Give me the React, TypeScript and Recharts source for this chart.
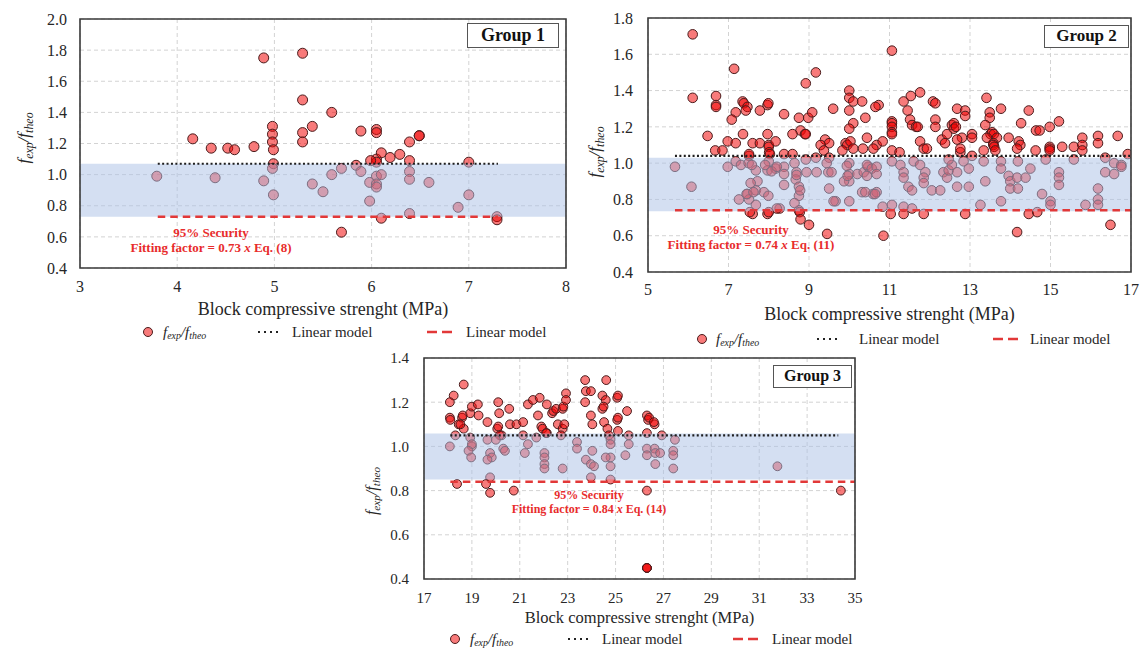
import React from 'react';
import {
  ScatterChart,
  Scatter,
  XAxis,
  YAxis,
  CartesianGrid,
  ReferenceArea,
  ReferenceLine,
  Legend,
  Label,
} from 'recharts';

const SERIF = '"Liberation Serif", "Times New Roman", Times, serif';

// [block compressive strength (MPa), f_exp / f_theo]
const group1Points = [
  [3.79, 0.99], [4.16, 1.23], [4.35, 1.17], [4.39, 0.98], [4.52, 1.17], [4.59, 1.16],
  [4.79, 1.18], [4.89, 1.75], [4.89, 0.96], [4.98, 1.31], [4.98, 1.26], [4.98, 1.21],
  [4.99, 1.16], [4.99, 1.07], [4.98, 1.04], [4.99, 0.87], [5.29, 1.78], [5.29, 1.48],
  [5.29, 1.27], [5.29, 1.21], [5.39, 1.31], [5.39, 0.94], [5.5, 0.89], [5.59, 1.4],
  [5.59, 1.0], [5.69, 1.04], [5.69, 0.63], [5.84, 1.06], [5.89, 1.28], [5.89, 1.02],
  [5.98, 0.95], [5.98, 0.83], [6.05, 1.29], [6.05, 1.27], [6.05, 1.1], [6.05, 1.08],
  [6.05, 0.99], [6.05, 0.94], [6.05, 0.92], [6.1, 1.14], [6.1, 1.0], [6.1, 0.72],
  [5.99, 1.09], [6.19, 1.11], [6.29, 1.13], [6.39, 1.21], [6.39, 1.09], [6.39, 1.02],
  [6.39, 0.97], [6.39, 0.75], [6.49, 1.25], [6.49, 1.25], [6.59, 0.95], [6.89, 0.79],
  [7.0, 1.08], [7.0, 0.87], [7.29, 0.73], [7.29, 0.71],
];

const group2Points = [
  [6.11, 1.71], [7.14, 1.52], [6.11, 1.36], [6.69, 1.37], [6.69, 1.32], [6.69, 1.31],
  [7.35, 1.34], [7.38, 1.33], [7.47, 1.31], [7.43, 1.29], [7.97, 1.32], [7.99, 1.33],
  [7.78, 1.29], [7.18, 1.28], [7.08, 1.24], [6.48, 1.15], [6.98, 1.12], [7.18, 1.11],
  [6.67, 1.07], [6.85, 1.07], [7.36, 1.16], [7.6, 1.11], [7.78, 1.11], [7.97, 1.16],
  [8.0, 1.1], [8.0, 1.09], [8.01, 1.06], [8.03, 1.05], [8.17, 1.12], [7.51, 1.04],
  [7.51, 1.05], [8.38, 1.27], [8.75, 1.25], [8.92, 1.44], [9.17, 1.5], [8.79, 1.18],
  [8.9, 1.16], [8.92, 1.16], [8.59, 1.16], [8.98, 1.25], [9.08, 1.28], [8.38, 1.05],
  [8.59, 1.05], [9.4, 1.13], [9.5, 1.11], [9.29, 1.1], [9.37, 1.07], [9.6, 1.3],
  [10.0, 1.4], [10.0, 1.36], [10.1, 1.34], [10.32, 1.34], [10.0, 1.29], [10.1, 1.22],
  [10.0, 1.19], [9.91, 1.11], [9.95, 1.1], [10.03, 1.12], [10.1, 1.08], [9.83, 1.07],
  [10.34, 1.08], [10.4, 1.25],
  [5.67, 0.98], [6.08, 0.87], [6.98, 0.98], [7.18, 1.01], [7.31, 0.99], [7.5, 1.0],
  [7.68, 0.96], [7.72, 0.9], [7.68, 0.85], [7.47, 0.83], [7.26, 0.8], [7.51, 0.8],
  [7.68, 0.77], [7.6, 0.72], [7.97, 0.72], [7.88, 0.84], [7.99, 0.82], [7.97, 0.96],
  [8.0, 1.01], [8.17, 0.97], [8.38, 0.98], [8.38, 0.94], [8.38, 0.88], [8.27, 0.75],
  [8.64, 1.0], [8.69, 0.95], [8.67, 0.91], [8.75, 0.87], [8.75, 0.82], [8.75, 0.74],
  [8.77, 0.73], [8.79, 0.69], [9.0, 0.66], [8.64, 0.78], [8.92, 1.02], [9.17, 1.03],
  [9.19, 0.95], [9.5, 1.03], [9.48, 0.95], [9.5, 0.86], [9.66, 0.79], [9.45, 0.61],
  [10.0, 1.0], [10.0, 0.94], [10.0, 0.9], [10.0, 0.79], [10.2, 0.94], [10.32, 0.84],
  [10.36, 0.95], [9.87, 0.9], [7.58, 0.99], [7.91, 0.99], [8.07, 0.955], [8.2, 0.98],
  [8.2, 0.75], [8.0, 0.73], [7.53, 0.73], [7.45, 0.83], [7.62, 0.84], [7.55, 0.89],
  [8.69, 0.935], [8.78, 0.85], [8.94, 0.95], [9.44, 1.0], [9.56, 0.95], [9.61, 0.79],
  [9.94, 0.985], [9.96, 0.93], [10.59, 0.83], [10.47, 0.98],
  [11.06, 1.62], [10.73, 1.32], [10.65, 1.31], [11.35, 1.34], [11.53, 1.37], [11.76, 1.39],
  [11.45, 1.29], [12.08, 1.34], [12.14, 1.33], [11.06, 1.23], [11.06, 1.22], [11.06, 1.2],
  [11.06, 1.17], [11.06, 1.16], [11.51, 1.24], [11.56, 1.21], [11.66, 1.2], [11.7, 1.2],
  [12.14, 1.24], [12.14, 1.2], [10.44, 1.14], [10.68, 1.1], [10.83, 1.12], [10.6, 1.08],
  [11.06, 1.07], [11.25, 1.06], [11.76, 1.12], [11.85, 1.08], [11.93, 1.08], [12.3, 1.13],
  [12.43, 1.16], [12.38, 1.11], [12.55, 1.21], [12.6, 1.22], [12.68, 1.3], [12.88, 1.29],
  [12.88, 1.26], [12.8, 1.14], [13.05, 1.16], [13.05, 1.14], [12.68, 1.13], [12.76, 1.06],
  [12.76, 1.08], [13.05, 1.04], [12.6, 1.19], [12.65, 1.2], [13.41, 1.36], [13.49, 1.28],
  [13.49, 1.25], [13.38, 1.21], [13.77, 1.3], [13.51, 1.16], [13.55, 1.17], [13.59, 1.16],
  [13.67, 1.14], [13.58, 1.11], [13.58, 1.1], [13.6, 1.09], [13.42, 1.14], [13.34, 1.07],
  [13.63, 1.07], [13.96, 1.14], [14.21, 1.12], [14.27, 1.22], [14.46, 1.29], [14.25, 1.1],
  [14.17, 1.08], [14.64, 1.18], [14.73, 1.18], [14.98, 1.2], [15.21, 1.23], [14.98, 1.09],
  [14.98, 1.08], [14.98, 1.07], [14.63, 1.07], [15.29, 1.09], [15.58, 1.09], [15.79, 1.14],
  [15.79, 1.1], [15.79, 1.07],
  [10.44, 0.99], [10.56, 0.97], [10.68, 0.98], [10.68, 0.94], [10.44, 0.93], [10.4, 0.84],
  [10.68, 0.84], [10.64, 0.83], [10.83, 0.76], [11.06, 0.77], [11.03, 0.72], [10.85, 0.6],
  [11.06, 1.01], [11.27, 0.99], [11.35, 0.95], [11.35, 0.92], [11.47, 0.87], [11.56, 0.85],
  [11.35, 0.76], [11.35, 0.72], [11.56, 0.75], [11.85, 0.72], [11.6, 1.01], [11.76, 0.99],
  [11.89, 0.95], [11.85, 0.92], [11.85, 0.89], [12.05, 0.85], [12.26, 0.85], [12.34, 0.95],
  [12.43, 0.92], [12.47, 0.96], [12.55, 0.99], [12.68, 0.95], [12.68, 0.87], [12.84, 1.01],
  [12.97, 0.97], [12.97, 0.87], [12.88, 0.72], [12.47, 1.02], [13.26, 0.77], [13.38, 0.9],
  [13.34, 1.01], [13.77, 1.01], [13.77, 0.97], [13.77, 0.79], [13.96, 0.93], [14.0, 0.9],
  [14.0, 0.86], [14.17, 0.92], [14.19, 0.86], [14.19, 1.01], [14.38, 0.92], [14.5, 0.97],
  [14.46, 0.72], [14.67, 0.73], [14.17, 0.62], [14.79, 0.83], [15.0, 0.79], [15.0, 0.77],
  [14.88, 1.02], [15.21, 0.95], [15.21, 0.92], [15.21, 0.88], [15.58, 1.02], [15.87, 0.77],
  [16.18, 1.15], [16.18, 1.11], [16.18, 0.86], [16.18, 0.8], [16.18, 0.77], [16.36, 1.03],
  [16.36, 0.95], [16.49, 0.66], [16.58, 0.94], [16.58, 1.0], [16.67, 1.15], [16.76, 0.99],
  [16.76, 0.98], [16.92, 1.05],
];

const group3Points = [
  [18.66, 1.28], [18.24, 1.23], [18.08, 1.2], [18.08, 1.13], [18.1, 1.12], [18.45, 1.1],
  [18.59, 1.13], [18.62, 1.14], [18.66, 1.08], [18.93, 1.15], [19.0, 1.18], [19.25, 1.19],
  [19.28, 1.14], [19.65, 1.11], [20.1, 1.2], [20.14, 1.15], [20.06, 1.08], [20.1, 1.09],
  [20.56, 1.17], [20.59, 1.1], [20.86, 1.1], [21.14, 1.11], [21.34, 1.19], [21.55, 1.21],
  [21.83, 1.22], [21.76, 1.14], [21.9, 1.09], [21.95, 1.08], [22.13, 1.19], [22.35, 1.15],
  [22.4, 1.16], [22.52, 1.17], [22.79, 1.17], [22.82, 1.18], [22.93, 1.24], [22.93, 1.21],
  [22.13, 1.06], [22.59, 1.1], [22.79, 1.08], [22.86, 1.1], [23.73, 1.3], [23.76, 1.25],
  [23.97, 1.25], [23.73, 1.2], [23.97, 1.14], [24.03, 1.1], [24.45, 1.23], [24.59, 1.21],
  [24.45, 1.17], [24.5, 1.18], [24.61, 1.3], [25.07, 1.22], [25.1, 1.23], [24.52, 1.11],
  [24.66, 1.08], [25.07, 1.12], [25.1, 1.13], [25.48, 1.16], [26.31, 1.14], [26.36, 1.12],
  [26.4, 1.13], [26.63, 1.1], [26.6, 1.11], [24.72, 1.05], [25.1, 1.07], [21.14, 1.05],
  [20.24, 1.05], [19.65, 1.03], [18.52, 1.1], [18.31, 1.05], [22.1, 1.06], [22.72, 1.05],
  [21.69, 1.04], [20.17, 1.05], [26.31, 1.06],
  [18.08, 1.0], [18.93, 1.04], [19.0, 1.0], [19.0, 1.01], [18.86, 0.98], [18.97, 0.95],
  [19.76, 0.97], [19.83, 0.95], [19.65, 0.94], [20.31, 0.99], [20.38, 0.98], [20.0, 1.03],
  [21.34, 1.01], [21.21, 0.97], [22.03, 0.97], [22.03, 0.95], [22.03, 0.92], [22.03, 0.9],
  [22.79, 0.9], [23.39, 1.02], [23.39, 0.99], [23.76, 0.94], [23.97, 0.92], [24.03, 0.98],
  [24.79, 1.03], [24.79, 1.01], [24.79, 0.95], [24.79, 0.91], [24.79, 0.85], [23.97, 0.86],
  [25.55, 1.05], [25.55, 1.01], [25.41, 0.96], [26.31, 0.99], [26.31, 0.96], [26.63, 0.99],
  [26.66, 0.97], [26.66, 0.92], [26.86, 0.97], [26.93, 1.05], [27.48, 1.03], [27.41, 0.98],
  [27.41, 0.96], [27.41, 0.9], [19.76, 0.86], [24.1, 0.91], [24.59, 0.95], [31.76, 0.91],
  [18.38, 0.83], [19.59, 0.83], [19.76, 0.79], [20.75, 0.8], [26.31, 0.8],
  [26.31, 0.45], [26.31, 0.45], [26.31, 0.45], [34.41, 0.8],
];

const group1XTicks = [3, 4, 5, 6, 7, 8];
const group1YTicks = [0.4, 0.6, 0.8, 1.0, 1.2, 1.4, 1.6, 1.8, 2.0];
const group2XTicks = [5, 7, 9, 11, 13, 15, 17];
const group2YTicks = [0.4, 0.6, 0.8, 1.0, 1.2, 1.4, 1.6, 1.8];
const group3XTicks = [17, 19, 21, 23, 25, 27, 29, 31, 33, 35];
const group3YTicks = [0.4, 0.6, 0.8, 1.0, 1.2, 1.4];

// shaded band [low, high]
const group1Band = [0.73, 1.07];
const group2Band = [0.735, 1.03];
const group3Band = [0.85, 1.058];

// linear model (mean) and 95% security lines
const group1Mean = [{ x: 3.8, y: 1.07 }, { x: 7.3, y: 1.07 }];
const group1Security = [{ x: 3.8, y: 0.73 }, { x: 7.3, y: 0.73 }];
const group2Mean = [{ x: 5.67, y: 1.04 }, { x: 17, y: 1.04 }];
const group2Security = [{ x: 5.67, y: 0.74 }, { x: 17, y: 0.74 }];
const group3Mean = [{ x: 18.1, y: 1.05 }, { x: 34.3, y: 1.05 }];
const group3Security = [{ x: 18.1, y: 0.84 }, { x: 35, y: 0.84 }];

const groupNames = ['Group 1', 'Group 2', 'Group 3'];
const fittingTexts = ['0.73', '0.74', '0.84'];
const equationRefs = ['(8)', '(11)', '(14)'];

const toXY = (pts: number[][]) => pts.map(([x, y]) => ({ x, y }));

const RED_FILL = '#f20000';
const DOT_STROKE = '#4a1c1c';
const LINE_RED = '#e23838';

interface LegendPos {
  circle: number;
  text: number;
  dot: number;
  dotLabel: number;
  dash: number;
  dashLabel: number;
}

const RatioText = ({ size }: { size: number }) => {
  const sub = { fontSize: size * 0.66, position: 'relative' as const, top: size * 0.16 };
  return (
    <span style={{ fontStyle: 'italic', fontSize: size }}>
      f<span style={sub}>exp</span>/f<span style={sub}>theo</span>
    </span>
  );
};

const PanelLegend = ({ pos, height, width, fontSize }: { pos: LegendPos; height: number; width: number; fontSize: number }) => {
  const mid = height / 2;
  const txt = { position: 'absolute' as const, top: 0, lineHeight: `${height}px`, whiteSpace: 'nowrap' as const };
  return (
    <div style={{ position: 'relative', height, width, fontFamily: SERIF, fontSize, color: '#262626', textAlign: 'left' }}>
      <svg width={width} height={height} style={{ position: 'absolute', left: 0, top: 0 }}>
        <circle cx={pos.circle} cy={mid} r={4.5} fill={RED_FILL} fillOpacity={0.52} stroke={DOT_STROKE} />
        <line x1={pos.dot} x2={pos.dot + 20} y1={mid} y2={mid} stroke="#222" strokeWidth={2} strokeDasharray="2 4" />
        <line x1={pos.dash} x2={pos.dash + 25} y1={mid} y2={mid} stroke={LINE_RED} strokeWidth={2.5} strokeDasharray="10 5" />
      </svg>
      <div style={{ ...txt, left: pos.text }}>
        <RatioText size={fontSize} />
      </div>
      <div style={{ ...txt, left: pos.dotLabel }}>Linear model</div>
      <div style={{ ...txt, left: pos.dashLabel }}>Linear model</div>
    </div>
  );
};

interface PanelProps {
  points: number[][];
  xTicks: number[];
  yTicks: number[];
  band: number[];
  mean: { x: number; y: number }[];
  security: { x: number; y: number }[];
  left: number;
  top: number;
  width: number;
  height: number;
  marginTop: number;
  yAxisWidth: number;
  xAxisHeight: number;
  legendHeight: number;
  r: number;
  tickFont: number;
  titleFont: number;
  xTickMargin: number;
  yTickMargin: number;
  titleOffset: number;
  yLabel: { x: number; y: number; size: number };
  legend: LegendPos;
}

const Panel = (p: PanelProps) => {
  const data = toXY(p.points);
  const x0 = p.xTicks[0];
  const x1 = p.xTicks[p.xTicks.length - 1];
  const y0 = p.yTicks[0];
  const y1 = p.yTicks[p.yTicks.length - 1];
  const tick = { fontSize: p.tickFont, fontFamily: SERIF, fill: '#262626' };

  const yLabelContent = () => {
    const { x, y, size } = p.yLabel;
    const bx = x + size * 0.3;
    return (
      <text
        x={bx}
        y={y}
        transform={`rotate(-90 ${bx} ${y})`}
        textAnchor="middle"
        fontFamily={SERIF}
        fontStyle="italic"
        fontSize={size}
        fill="#262626"
      >
        <tspan>f</tspan>
        <tspan dy={size * 0.22} fontSize={size * 0.7}>exp</tspan>
        <tspan dy={-size * 0.22}>/f</tspan>
        <tspan dy={size * 0.22} fontSize={size * 0.7}>theo</tspan>
      </text>
    );
  };

  return (
    <div style={{ position: 'absolute', left: p.left, top: p.top }}>
      <ScatterChart
        width={p.width}
        height={p.height}
        margin={{ top: p.marginTop, right: 14, bottom: 0, left: 0 }}
      >
        <CartesianGrid stroke="#d3d3d3" strokeDasharray="4 3" />
        <XAxis
          type="number"
          dataKey="x"
          domain={[x0, x1]}
          ticks={p.xTicks}
          allowDataOverflow
          axisLine={false}
          tickLine={false}
          tickSize={0}
          tickMargin={p.xTickMargin}
          height={p.xAxisHeight}
          tick={tick}
          interval={0}
        >
          <Label
            value="Block compressive strenght (MPa)"
            position="insideBottom"
            offset={p.titleOffset}
            fontSize={p.titleFont}
            fontFamily={SERIF}
            fill="#262626"
          />
        </XAxis>
        <YAxis
          type="number"
          dataKey="y"
          domain={[y0, y1]}
          ticks={p.yTicks}
          allowDataOverflow
          axisLine={false}
          tickLine={false}
          tickSize={0}
          tickMargin={p.yTickMargin}
          width={p.yAxisWidth}
          tick={tick}
          interval={0}
          tickFormatter={(v: number) => v.toFixed(1)}
        >
          <Label content={yLabelContent} />
        </YAxis>
        <Scatter
          data={data}
          isAnimationActive={false}
          shape={(s: any) => (
            <circle
              cx={s.cx}
              cy={s.cy}
              r={p.r}
              fill={RED_FILL}
              fillOpacity={0.52}
              stroke={DOT_STROKE}
              strokeWidth={1}
            />
          )}
        />
        <ReferenceArea
          x1={x0}
          x2={x1}
          y1={p.band[0]}
          y2={p.band[1]}
          fill="#aabfe6"
          fillOpacity={0.5}
          stroke="none"
          zIndex={650}
        />
        <ReferenceLine
          segment={p.mean}
          stroke="#1e1e1e"
          strokeWidth={2.2}
          strokeDasharray="2 2.4"
          zIndex={660}
        />
        <ReferenceLine
          segment={p.security}
          stroke={LINE_RED}
          strokeWidth={2.5}
          strokeDasharray="7.5 5"
          zIndex={660}
        />
        <ReferenceArea
          x1={x0}
          x2={x1}
          y1={y0}
          y2={y1}
          fill="none"
          stroke="#3a3a3a"
          strokeWidth={1.6}
          zIndex={670}
        />
        <Legend
          verticalAlign="bottom"
          align="left"
          height={p.legendHeight}
          content={() => (
            <PanelLegend pos={p.legend} height={p.legendHeight} width={p.width} fontSize={15} />
          )}
        />
      </ScatterChart>
    </div>
  );
};

const GroupBox = ({ label, left, top, width, height, size }: { label: string; left: number; top: number; width: number; height: number; size: number }) => (
  <div
    style={{
      position: 'absolute',
      left,
      top,
      width,
      height,
      boxSizing: 'border-box',
      border: '1.5px solid #555',
      background: '#fff',
      fontFamily: SERIF,
      fontWeight: 'bold',
      fontSize: size,
      lineHeight: `${height - 3}px`,
      textAlign: 'center',
      color: '#111',
    }}
  >
    {label}
  </div>
);

const Annotation = ({ cx, cy, size, factor, eq }: { cx: number; cy: number; size: number; factor: string; eq: string }) => (
  <div
    style={{
      position: 'absolute',
      left: cx,
      top: cy,
      transform: 'translate(-50%, -50%)',
      fontFamily: SERIF,
      fontWeight: 'bold',
      fontSize: size,
      lineHeight: `${size * 1.18}px`,
      color: '#e82c2c',
      textAlign: 'center',
      whiteSpace: 'nowrap',
    }}
  >
    <div>95% Security</div>
    <div>
      Fitting factor = {factor} <i>x</i> Eq. {eq}
    </div>
  </div>
);

export default function App() {
  return (
    <div
      style={{
        position: 'absolute',
        left: 0,
        top: 0,
        width: 1147,
        height: 649,
        background: '#fff',
        overflow: 'hidden',
      }}
    >
      <Panel
        points={group1Points}
        xTicks={group1XTicks}
        yTicks={group1YTicks}
        band={group1Band}
        mean={group1Mean}
        security={group1Security}
        left={0}
        top={0}
        width={580}
        height={344}
        marginTop={19}
        yAxisWidth={80}
        xAxisHeight={52}
        legendHeight={24}
        r={5}
        tickFont={16}
        titleFont={18}
        xTickMargin={13}
        yTickMargin={13}
        titleOffset={5}
        yLabel={{ x: 24, y: 138, size: 17 }}
        legend={{ circle: 148, text: 163, dot: 258, dotLabel: 292, dash: 427, dashLabel: 466 }}
      />
      <Panel
        points={group2Points}
        xTicks={group2XTicks}
        yTicks={group2YTicks}
        band={group2Band}
        mean={group2Mean}
        security={group2Security}
        left={580}
        top={0}
        width={565}
        height={352}
        marginTop={18}
        yAxisWidth={68}
        xAxisHeight={54}
        legendHeight={26}
        r={4.8}
        tickFont={16}
        titleFont={18}
        xTickMargin={12}
        yTickMargin={15}
        titleOffset={6}
        yLabel={{ x: 15, y: 152, size: 17 }}
        legend={{ circle: 122, text: 136, dot: 237, dotLabel: 279, dash: 413, dashLabel: 450 }}
      />
      <Panel
        points={group3Points}
        xTicks={group3XTicks}
        yTicks={group3YTicks}
        band={group3Band}
        mean={group3Mean}
        security={group3Security}
        left={350}
        top={340}
        width={519}
        height={311}
        marginTop={18}
        yAxisWidth={74}
        xAxisHeight={48}
        legendHeight={24}
        r={4.4}
        tickFont={15}
        titleFont={16.5}
        xTickMargin={13}
        yTickMargin={15}
        titleOffset={4}
        yLabel={{ x: 22, y: 151, size: 16 }}
        legend={{ circle: 105, text: 120, dot: 218, dotLabel: 252, dash: 383, dashLabel: 422 }}
      />
      <GroupBox label={groupNames[0]} left={467} top={23} width={92} height={25} size={18} />
      <GroupBox label={groupNames[1]} left={1044} top={25} width={85} height={23} size={17} />
      <GroupBox label={groupNames[2]} left={773} top={365} width={79} height={23} size={16} />
      <Annotation cx={211} cy={240} size={13} factor={fittingTexts[0]} eq={equationRefs[0]} />
      <Annotation cx={751} cy={237} size={13} factor={fittingTexts[1]} eq={equationRefs[1]} />
      <Annotation cx={589} cy={502} size={12} factor={fittingTexts[2]} eq={equationRefs[2]} />
    </div>
  );
}
